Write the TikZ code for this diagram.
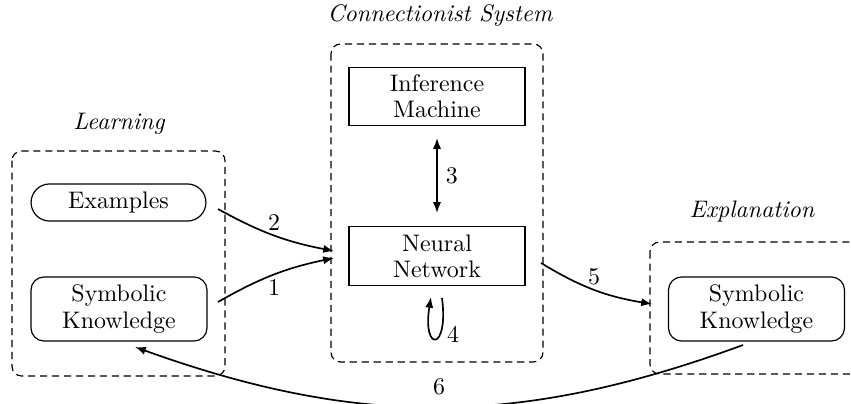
\documentclass[tikz,border=0pt]{standalone}
\usetikzlibrary{arrows.meta,shapes.misc}
\begin{document}
\begin{tikzpicture}[x=0.418pt,y=-0.418pt,
  >={Latex[length=4.5pt,width=3.4pt]},
  every node/.style={font=\fontsize{10}{11}\selectfont},
  group/.style={draw,line width=0.5pt,dash pattern=on 3pt off 2pt,rounded corners=4pt},
  grouptitle/.style={font=\fontsize{10}{11}\selectfont\itshape},
  sqbox/.style={draw,line width=0.5pt,align=center,minimum width=73.6pt,minimum height=24.5pt,inner sep=0pt},
  rbox/.style={draw,line width=0.5pt,align=center,rounded corners=5.5pt,minimum width=73.6pt,minimum height=26.8pt,inner sep=0pt},
  pill/.style={draw,line width=0.5pt,rounded rectangle,minimum width=73.1pt,minimum height=15.5pt,inner sep=0pt},
  conn/.style={->,line width=0.7pt},
  lab/.style={inner sep=1.8pt}]
\useasboundingbox (0,0) rectangle (851,404);

% groups
\draw[group] (331,44) rectangle (543,362);
\draw[group] (12,151) rectangle (225,376);
\draw[group] (650,242) rectangle (880,374);
\node[grouptitle] (tconn) at (440,16) {Connectionist System};
\node[grouptitle] (tlearn) at (119,124) {Learning};
\node[grouptitle] (texpl) at (752,212) {Explanation};

% nodes
\node[sqbox] (im) at (437,96.5) {Inference\\Machine};
\node[sqbox] (nn) at (437,256) {Neural\\Network};
\node[pill] (ex) at (118.5,202.5) {Examples};
\node[rbox] (skl) at (119,309) {Symbolic\\Knowledge};
\node[rbox] (skr) at (756.5,309) {Symbolic\\Knowledge};

% connector endpoints
\coordinate (a2s) at (218,209);
\coordinate (a2e) at (334,251);
\coordinate (a1s) at (218,302);
\coordinate (a1e) at (334,258);
\coordinate (a3s) at (437,138);
\coordinate (a3e) at (437,213);
\coordinate (a5s) at (541,263);
\coordinate (a5e) at (652,304);
\coordinate (a6s) at (743,345);
\coordinate (a6e) at (135,347);
\coordinate (a4s) at (442,298);
\coordinate (a4e) at (431,297);

% connectors
\draw[conn] (a2s) to[bend right=9] node[lab,above,pos=0.5] {2} (a2e);
\draw[conn] (a1s) to[bend left=9] node[lab,below,pos=0.5] {1} (a1e);
\draw[<->,line width=0.7pt] (a3s) -- node[right] {3} (a3e);
\draw[conn] (a5s) to[bend right=11] node[lab,above,pos=0.5] {5} (a5e);
\draw[conn] (a6s) to[bend left=20] node[above=1.5pt,pos=0.5] {6} (a6e);
\draw[conn] (a4s) .. controls (449,352) and (422,352) .. (a4e);
\node (l4) at (453,334) {4};
\end{tikzpicture}
\end{document}
